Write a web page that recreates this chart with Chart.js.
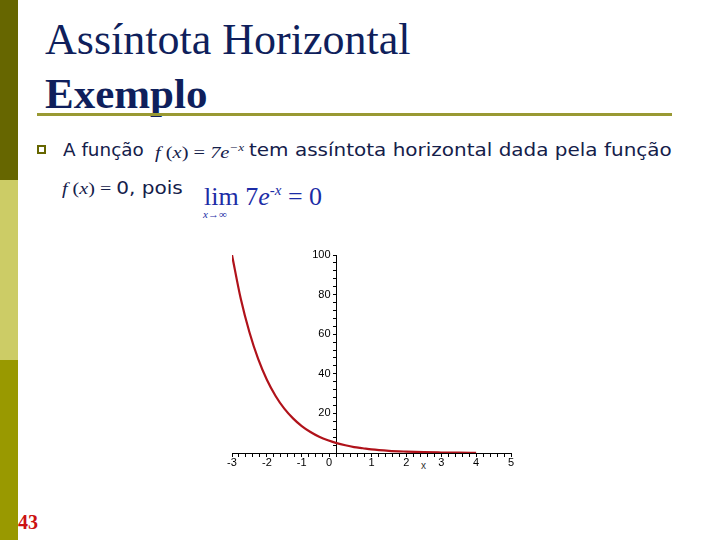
<!DOCTYPE html>
<html>
<head>
<meta charset="utf-8">
<script src="https://cdn.jsdelivr.net/npm/chart.js@4.4.1/dist/chart.umd.min.js"></script>
<style>
  html, body { margin: 0; padding: 0; background: #fff; }
  body { width: 720px; height: 540px; position: relative; overflow: hidden; }
  .abs { position: absolute; white-space: nowrap; }
  .bar { position: absolute; left: 0; width: 18px; height: 180px; }
  .title { font-family: "Liberation Serif", "Times New Roman", serif; color: #0f1f5c; line-height: 1; }
  .txt { font-family: "DejaVu Sans", Verdana, sans-serif; font-size: 17px; color: #14204a; line-height: 1; transform-origin: 0 0; }
  .m { font-family: "Liberation Serif", "Times New Roman", serif; font-style: italic; font-size: 17px; }
  .n { font-family: "Liberation Serif", "Times New Roman", serif; font-size: 17px; }
  .lim { font-family: "Liberation Serif", "Times New Roman", serif; color: #1c2ca6; line-height: 1; }
</style>
</head>
<body>
<div class="bar" style="top:0;background:#666600"></div>
<div class="bar" style="top:180px;background:#cccc66"></div>
<div class="bar" style="top:360px;background:#999900"></div>

<div class="abs title" style="left:45px;top:18px;font-size:44px">Assíntota Horizontal</div>
<div class="abs title" style="left:45px;top:72px;font-size:43px;font-weight:bold">Exemplo</div>
<div class="abs" style="left:37px;top:113px;width:635px;height:3px;background:#999933"></div>

<div class="abs" style="left:37px;top:145px;width:9px;height:9px;border:2px solid #666600;box-sizing:border-box"></div>
<div class="abs txt" style="left:63px;top:142px;transform:scaleX(1.08)">A função</div>
<div class="abs txt" style="left:155px;top:142px;transform:scaleX(1.2)"><span class="m">f</span><span class="n"> (</span><span class="m">x</span><span class="n">) = </span><span class="m">7e<sup style="font-size:11px">−x</sup></span></div>
<div class="abs txt" style="left:249px;top:142px;transform:scaleX(1.175)">tem assíntota horizontal dada pela função</div>
<div class="abs txt" style="left:62px;top:180px;transform:scaleX(1.18)"><span class="m">f</span><span class="n"> (</span><span class="m">x</span><span class="n">) = </span>0, pois</div>

<div class="abs lim" style="left:204px;top:183px;font-size:26px">lim 7<i>e</i><sup style="font-size:15px"><i>-x</i></sup> = 0</div>
<div class="abs lim" style="left:203px;top:209px;font-size:11px"><i>x</i>→∞</div>

<div class="abs" style="left:18px;top:512px;font-family:'Liberation Serif',serif;font-weight:bold;font-size:20px;color:#cc1111;line-height:1">43</div>

<div class="abs" style="left:421px;top:460px;font-family:'Liberation Sans',Arial,sans-serif;font-size:10px;color:#333">x</div>

<div class="abs" style="left:200px;top:240px;width:330px;height:240px">
  <canvas id="c" width="330" height="240"></canvas>
</div>

<script>
// curve values
const xValues = [-3, -2.75, -2.5, -2.25, -2, -1.75, -1.5, -1.25, -1, -0.75, -0.5, -0.25, 0, 0.25, 0.5, 0.75, 1, 1.5, 2, 2.5, 3, 3.5, 4];
const yValues = [100, 78, 61, 47.5, 37, 28.8, 22.4, 17.5, 13.6, 10.6, 8.2, 6.4, 5, 3.9, 3.0, 2.4, 1.8, 1.1, 0.7, 0.4, 0.25, 0.15, 0.1];
const xTickLabels = [-3, -2, -1, 0, 1, 2, 3, 4, 5];
const yTickLabels = [20, 40, 60, 80, 100];

const points = xValues.map((x, i) => ({ x: x, y: yValues[i] }));

const near = (v, arr) => arr.find(a => Math.abs(a - v) < 1e-6);

new Chart(document.getElementById('c'), {
  type: 'line',
  data: {
    datasets: [{
      data: points,
      borderColor: '#b0121a',
      borderWidth: 2.2,
      pointRadius: 0,
      fill: false,
      cubicInterpolationMode: 'monotone'
    }]
  },
  options: {
    responsive: false,
    animation: false,
    events: [],
    layout: { padding: { left: 32, top: 15, right: 19, bottom: 27 } },
    plugins: { legend: { display: false }, tooltip: { enabled: false }, title: { display: false } },
    scales: {
      x: {
        type: 'linear',
        min: -3, max: 5,
        position: { y: 0 },
        border: { display: true, color: '#000', width: 1 },
        grid: { drawOnChartArea: false, drawTicks: true, tickLength: 3, tickColor: '#000' },
        ticks: {
          stepSize: 0.2,
          maxTicksLimit: 100,
          autoSkip: false,
          maxRotation: 0,
          padding: 0,
          color: '#000',
          font: { family: 'Liberation Sans, Arial, sans-serif', size: 11 },
          callback: (v) => {
            const t = near(v, xTickLabels);
            if (t === undefined) return '';
            return t === 0 ? '0     ' : String(t);
          }
        }
      },
      y: {
        type: 'linear',
        min: 0, max: 100,
        position: { x: 0 },
        border: { display: true, color: '#000', width: 1 },
        grid: { drawOnChartArea: false, drawTicks: true, tickLength: 3, tickColor: '#000' },
        ticks: {
          stepSize: 4,
          maxTicksLimit: 100,
          autoSkip: false,
          padding: 3,
          color: '#000',
          font: { family: 'Liberation Sans, Arial, sans-serif', size: 11 },
          callback: (v) => { const t = near(v, yTickLabels); return t === undefined ? '' : String(t) + '  '; }
        }
      }
    }
  }
});
</script>
</body>
</html>
